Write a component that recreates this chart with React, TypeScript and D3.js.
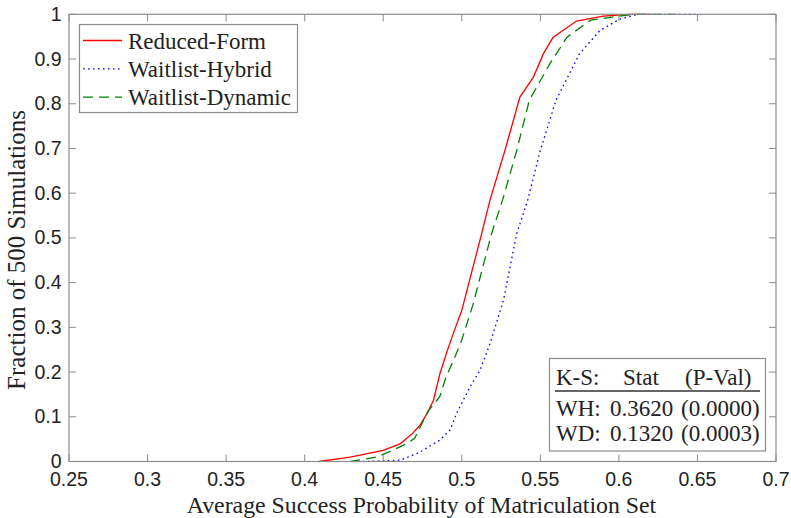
import * as d3 from 'd3'

// x values (success probability) and cumulative fractions
const reducedX = [0.409, 0.429, 0.450, 0.461, 0.469, 0.4734, 0.478, 0.482, 0.486, 0.4905, 0.4946, 0.500, 0.5127, 0.518, 0.5275, 0.537, 0.5455, 0.552, 0.558, 0.573, 0.590, 0.607, 0.62]
const reducedY = [0, 0.01, 0.025, 0.04, 0.064, 0.081, 0.108, 0.137, 0.195, 0.245, 0.286, 0.338, 0.51, 0.585, 0.696, 0.815, 0.859, 0.912, 0.948, 0.985, 0.996, 1, 1]

const hybridX = [0.437, 0.461, 0.473, 0.486, 0.4925, 0.4968, 0.5052, 0.5116, 0.518, 0.5265, 0.535, 0.542, 0.550, 0.560, 0.575, 0.588, 0.601, 0.612, 0.65]
const hybridY = [0, 0.003, 0.02, 0.048, 0.07, 0.108, 0.167, 0.204, 0.264, 0.36, 0.51, 0.585, 0.696, 0.808, 0.912, 0.964, 0.99, 1, 1]

const dynamicX = [0.429, 0.446, 0.456, 0.465, 0.470, 0.4785, 0.486, 0.490, 0.4957, 0.4999, 0.507, 0.519, 0.526, 0.535, 0.543, 0.556, 0.567, 0.582, 0.609, 0.635]
const dynamicY = [0, 0.01, 0.025, 0.04, 0.052, 0.112, 0.145, 0.189, 0.234, 0.271, 0.349, 0.51, 0.585, 0.696, 0.808, 0.889, 0.949, 0.987, 1, 1]

const xTicks = [0.25, 0.3, 0.35, 0.4, 0.45, 0.5, 0.55, 0.6, 0.65, 0.7]
const yTicks = [0, 0.1, 0.2, 0.3, 0.4, 0.5, 0.6, 0.7, 0.8, 0.9, 1]

const seriesNames = ['Reduced-Form', 'Waitlist-Hybrid', 'Waitlist-Dynamic']

const ksHeader = ['K-S:', 'Stat', '(P-Val)']
const ksRows = [
  ['WH:', '0.3620', '(0.0000)'],
  ['WD:', '0.1320', '(0.0003)'],
]

const W = 791
const H = 518
const serif = '"Liberation Serif", "Times New Roman", serif'
const sans = '"Liberation Sans", Arial, sans-serif'
const axisColor = '#8c8c8c'
const textColor = '#222'

export default function App() {
  const x = d3.scaleLinear().domain([0.25, 0.7]).range([69, 776])
  const y = d3.scaleLinear().domain([0, 1]).range([461.5, 14.3])

  const line = d3.line<[number, number]>()
    .x(d => x(d[0]))
    .y(d => y(d[1]))

  const series = [
    { name: seriesNames[0], xs: reducedX, ys: reducedY, color: '#ff0000', dash: undefined },
    { name: seriesNames[1], xs: hybridX, ys: hybridY, color: '#0000ff', dash: '1.6 3.4' },
    { name: seriesNames[2], xs: dynamicX, ys: dynamicY, color: '#008000', dash: '10 6' },
  ]

  const [x0, x1] = x.range()
  const [y0, y1] = y.range()
  const tickLen = 7

  return (
    <svg width={W} height={H} style={{ position: 'absolute', left: 0, top: 0, background: '#fff' }}>
      {/* curves */}
      {series.map(s => (
        <path
          key={s.name}
          d={line(s.xs.map((v, i) => [v, s.ys[i]] as [number, number])) || ''}
          fill="none"
          stroke={s.color}
          strokeWidth={1.3}
          strokeDasharray={s.dash}
        />
      ))}

      {/* frame */}
      <rect x={x0} y={y1} width={x1 - x0} height={y0 - y1} fill="none" stroke={axisColor} strokeWidth={1.2} />

      {/* x ticks */}
      {xTicks.map(t => (
        <g key={'x' + t}>
          <line x1={x(t)} x2={x(t)} y1={y0} y2={y0 - tickLen} stroke={axisColor} />
          <line x1={x(t)} x2={x(t)} y1={y1} y2={y1 + tickLen} stroke={axisColor} />
          <text x={x(t)} y={y0 + 24.5} textAnchor="middle" fontFamily={sans} fontSize={19.5} fill={textColor}>
            {String(t)}
          </text>
        </g>
      ))}

      {/* y ticks */}
      {yTicks.map(t => (
        <g key={'y' + t}>
          <line x1={x0} x2={x0 + tickLen} y1={y(t)} y2={y(t)} stroke={axisColor} />
          <line x1={x1} x2={x1 - tickLen} y1={y(t)} y2={y(t)} stroke={axisColor} />
          <text x={x0 - 7.5} y={y(t) + 6.5} textAnchor="end" fontFamily={sans} fontSize={19.5} fill={textColor}>
            {String(t)}
          </text>
        </g>
      ))}

      {/* axis titles */}
      <text x={421.5} y={513} textAnchor="middle" fontFamily={serif} fontSize={23.8} fill={textColor}>
        Average Success Probability of Matriculation Set
      </text>
      <text
        transform={`translate(25,250) rotate(-90)`}
        textAnchor="middle"
        fontFamily={serif}
        fontSize={25}
        fill={textColor}
      >
        Fraction of 500 Simulations
      </text>

      {/* legend */}
      <rect x={79.5} y={24.5} width={218} height={88} fill="#fff" stroke={axisColor} strokeWidth={1.2} />
      {series.map((s, i) => (
        <g key={'leg' + s.name}>
          <line x1={83} x2={122} y1={40.5 + i * 28.3} y2={40.5 + i * 28.3}
            stroke={s.color} strokeWidth={1.3} strokeDasharray={s.dash} />
          <text x={128} y={48.5 + i * 28.3} fontFamily={serif} fontSize={23} fill={textColor}>
            {s.name}
          </text>
        </g>
      ))}

      {/* K-S table */}
      <rect x={549.5} y={358.5} width={216} height={92.5} fill="#fff" stroke={axisColor} strokeWidth={1.2} />
      <text x={556} y={385} fontFamily={serif} fontSize={23} fill={textColor}>{ksHeader[0]}</text>
      <text x={623} y={385} fontFamily={serif} fontSize={23} fill={textColor}>{ksHeader[1]}</text>
      <text x={685} y={385} fontFamily={serif} fontSize={23} fill={textColor}>{ksHeader[2]}</text>
      <line x1={555} x2={760} y1={391} y2={391} stroke="#333" strokeWidth={1.3} />
      {ksRows.map((r, i) => (
        <text key={r[0]} x={556} y={416 + i * 25} fontFamily={serif} fontSize={23} fill={textColor}>
          <tspan x={556}>{r[0]}</tspan>
          <tspan x={610}>{r[1]}</tspan>
          <tspan x={681}>{r[2]}</tspan>
        </text>
      ))}
    </svg>
  )
}
